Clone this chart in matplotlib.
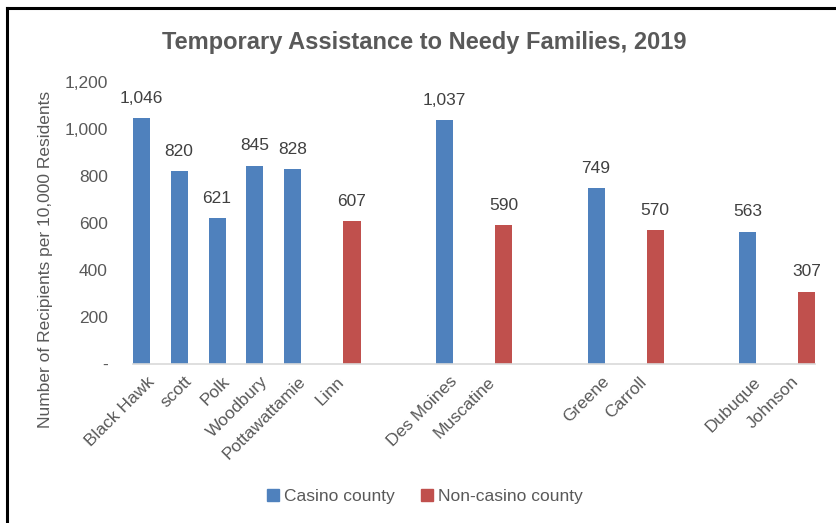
import numpy as np
import matplotlib.pyplot as plt
from matplotlib.lines import Line2D
from matplotlib.patches import Patch

plt.rcParams['font.family'] = 'Liberation Sans'

# categories as laid out on the axis (blank slots separate the county pairs)
counties = ['Black Hawk', 'scott', 'Polk', 'Woodbury', 'Pottawattamie', 'Linn', '', '',
            'Des Moines', 'Muscatine', '', '', 'Greene', 'Carroll', '', '',
            'Dubuque', 'Johnson']
casino = [1046, 820, 621, 845, 828, None, None, None,
          1037, None, None, None, 749, None, None, None, 563, None]
noncasino = [None, None, None, None, None, 607, None, None,
             None, 590, None, None, None, 570, None, None, None, 307]

blue = '#4F81BD'
red = '#C0504D'
gray = '#595959'
lblgray = '#404040'

fig = plt.figure(figsize=(8.36, 5.23), dpi=100)
ax = fig.add_axes([0.159, 0.304, 0.816, 0.539])

x = np.arange(len(counties))
width = 0.45
off = 0.28

def draw(vals, shift, color):
    for xi, v in zip(x, vals):
        if v is None:
            continue
        ax.bar(xi + shift, v, width=width, color=color)
        ax.annotate(f'{v:,}', (xi + shift, v), xytext=(0, 9), textcoords='offset points',
                    ha='center', va='bottom', fontsize=12.5, color=lblgray)

draw(casino, -off, blue)
draw(noncasino, off, red)

ax.set_xlim(-0.5, len(counties) - 0.5)
ax.set_ylim(0, 1200)
ax.set_yticks(range(0, 1201, 200))
ax.set_yticklabels(['-'] + [f'{v:,}' for v in range(200, 1201, 200)])
ax.set_xticks(x)
ax.set_xticklabels(counties, rotation=45, ha='right', rotation_mode='anchor', va='center')
ax.tick_params(axis='both', length=0, labelsize=12.5, labelcolor=gray)
ax.tick_params(axis='y', pad=18)
ax.tick_params(axis='x', pad=11)

for s in ['top', 'right', 'left']:
    ax.spines[s].set_visible(False)
ax.spines['bottom'].set_color('#D9D9D9')
ax.spines['bottom'].set_linewidth(1.2)

ax.set_ylabel('Number of Recipients per 10,000 Residents', fontsize=12.5, color=gray)
ax.yaxis.set_label_coords(-0.117, 0.372)
fig.text(0.507, 0.918, 'Temporary Assistance to Needy Families, 2019', ha='center', va='center',
         fontsize=17, fontweight='bold', color=gray)

handles = [Patch(color=blue, label='Casino county'), Patch(color=red, label='Non-casino county')]
fig.legend(handles=handles, loc='center', bbox_to_anchor=(0.508, 0.051), ncol=2, frameon=False,
           fontsize=12.5, labelcolor=gray, handlelength=0.7, handleheight=0.7, columnspacing=1.5,
           handletextpad=0.3)

# chart border (left and top only)
fig.add_artist(Line2D([0.008, 0.008], [0, 0.984], color='black', lw=2.2))
fig.add_artist(Line2D([0.008, 1.0], [0.984, 0.984], color='black', lw=2.2))

fig.savefig('out.png', dpi=100)
